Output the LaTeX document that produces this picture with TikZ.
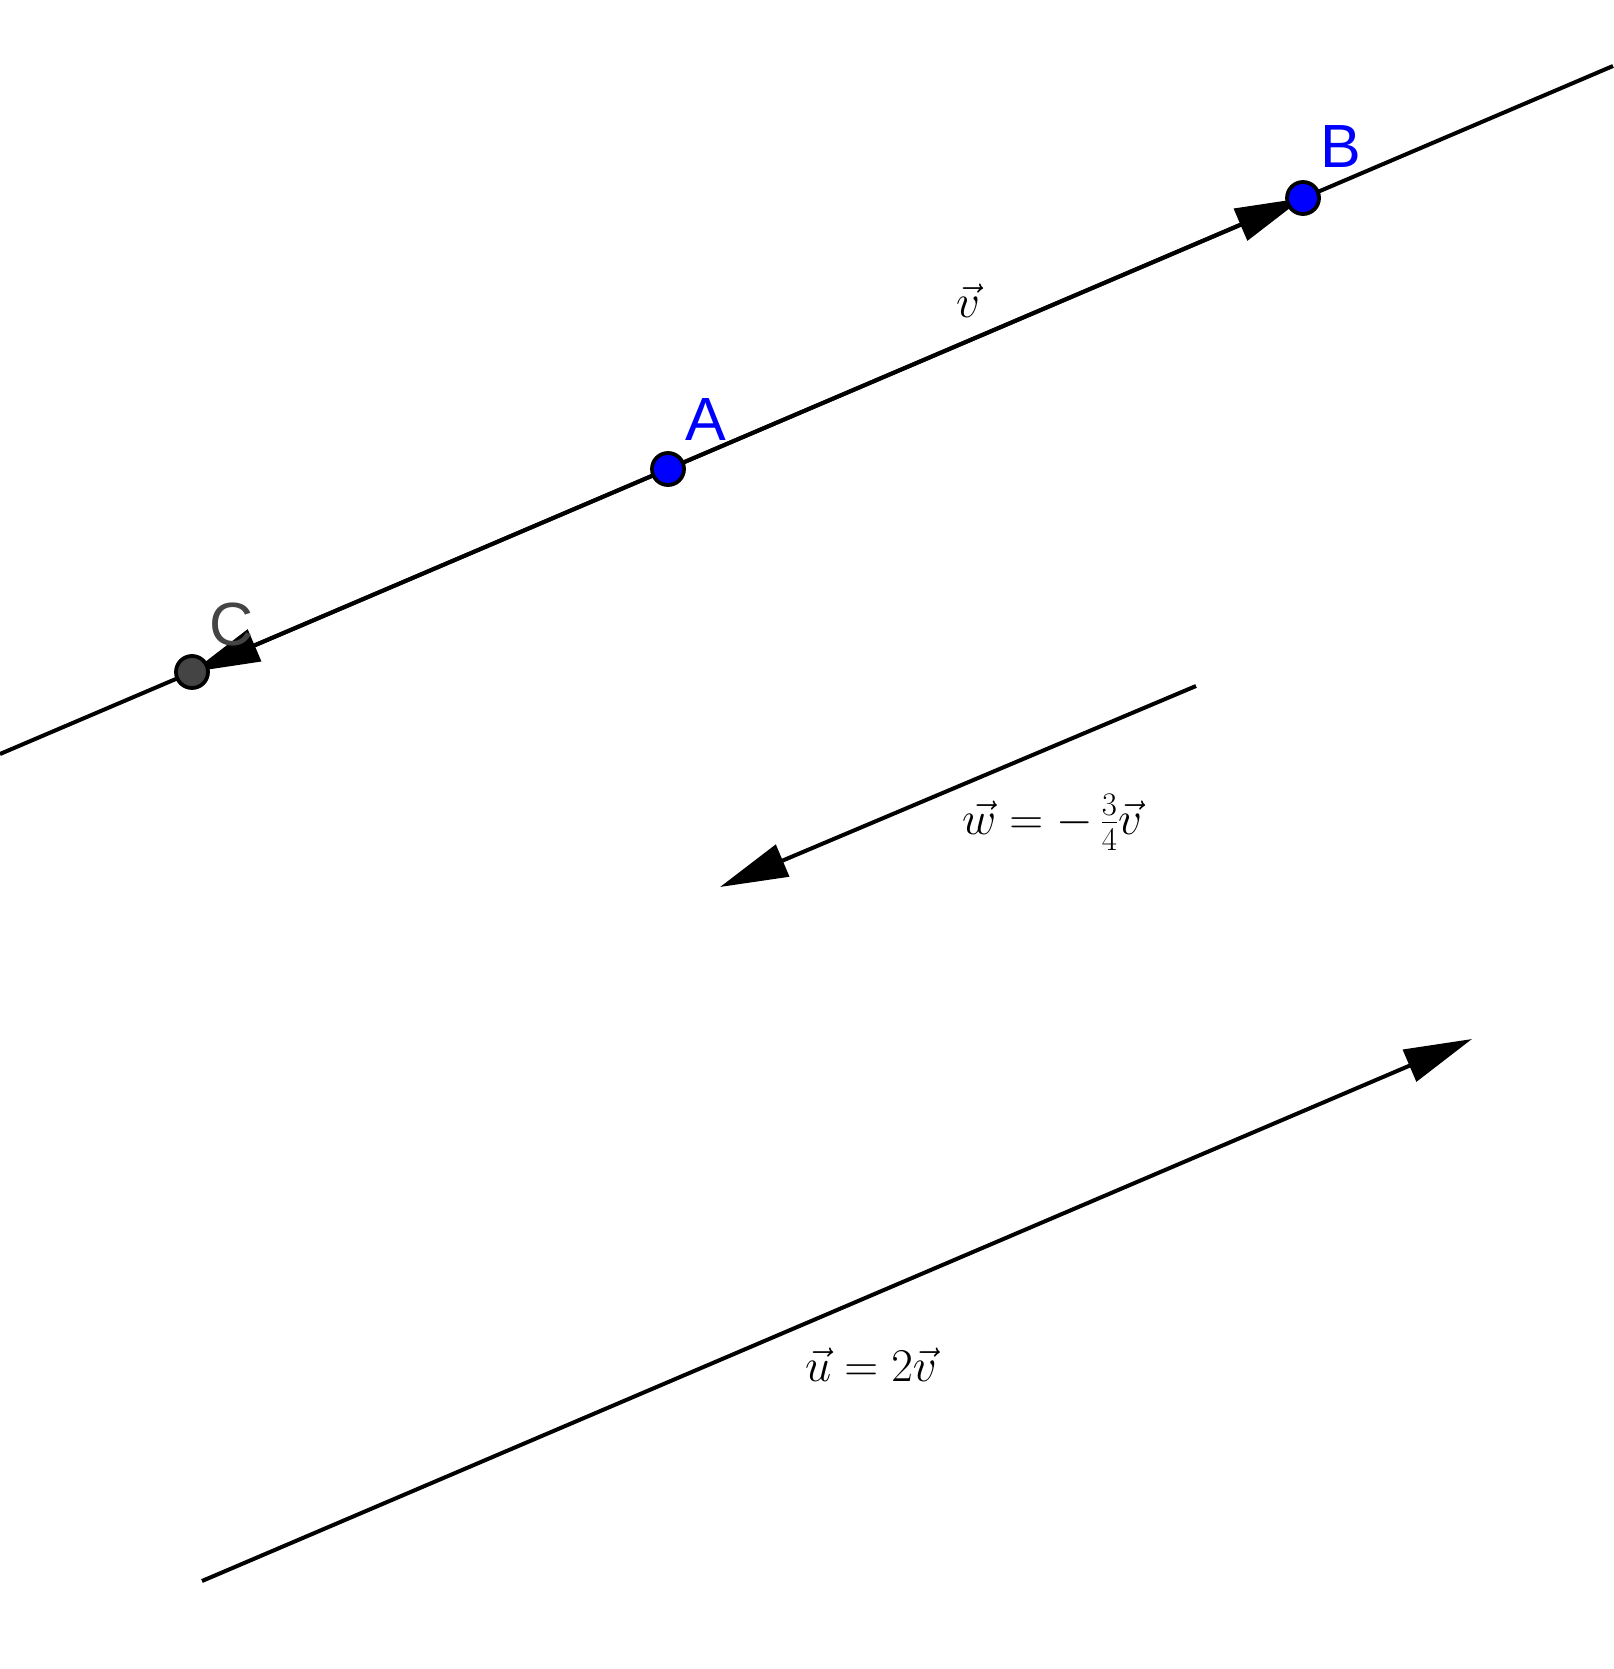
\documentclass[tikz,border=0pt]{standalone}
\usepackage{fix-cm}
\usepackage{fontspec}
\newfontfamily\labelfont{Liberation Sans}
\usetikzlibrary{arrows.meta}
\definecolor{ptblue}{RGB}{0,0,255}
\definecolor{ptgray}{RGB}{68,68,68}
\tikzset{
  vecline/.style={line width=4pt,-{Triangle[length=68pt,width=34pt]}},
  plainline/.style={line width=4pt},
  ptdot/.style={circle,draw=black,line width=3.8pt,minimum size=32pt,inner sep=0pt},
  ptlabel/.style={anchor=base west,inner sep=0pt,font=\labelfont\fontsize{61}{72}\selectfont},
  mathlabel/.style={anchor=base west,inner sep=0pt,font=\fontsize{47}{56}\selectfont}
}
\begin{document}
\begin{tikzpicture}[x=1pt,y=-1pt]
\useasboundingbox (0,0) rectangle (1613,1669);
% line through A and B
\coordinate (L) at (0,754);
\coordinate (R) at (1613,66);
\coordinate (A) at (668,469);
\coordinate (B) at (1303,198);
\coordinate (C) at (192,672);
\draw[plainline] (L) -- (R);
% vectors
\draw[vecline] (A) -- (B);
\draw[vecline] (A) -- (C);
\coordinate (w1) at (1196,686);
\coordinate (w2) at (720,887);
\draw[vecline] (w1) -- (w2);
\coordinate (u1) at (202,1581);
\coordinate (u2) at (1472,1039);
\draw[vecline] (u1) -- (u2);
% points
\node[ptdot,fill=ptblue] (pA) at (A) {};
\node[ptdot,fill=ptblue] (pB) at (B) {};
\node[ptdot,fill=ptgray] (pC) at (C) {};
% point labels
\node[ptlabel,text=ptblue] (lA) at (685,440) {A};
\node[ptlabel,text=ptblue] (lB) at (1320,168) {B};
\node[ptlabel,text=ptgray] (lC) at (209,645) {C};
% vector labels
\node[mathlabel] (lv) at (956,318) {$\vec v$};
\node[mathlabel] (lw) at (962,834) {$\vec w=-\,\frac{3}{4}\vec v$};
\node[mathlabel] (lu) at (805,1381) {$\vec u=2\vec v$};
\end{tikzpicture}
\end{document}
